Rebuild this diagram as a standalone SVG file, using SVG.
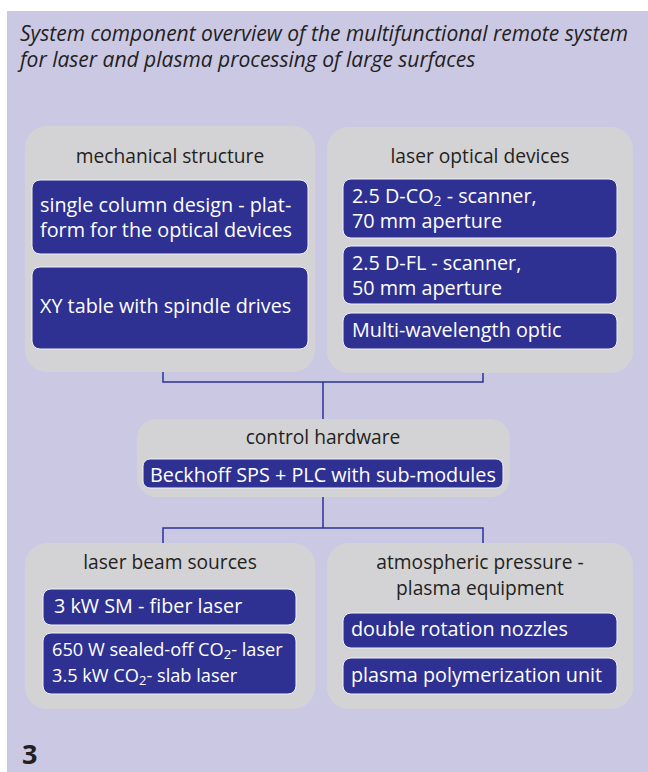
<svg xmlns="http://www.w3.org/2000/svg" width="648" height="772" viewBox="0 0 648 772">
<style>
.bg{fill:#CBC8E4}
.grp{fill:#D3D3D5}
.item{fill:#2E3192;stroke:#F2F2F8;stroke-width:1}
.hd{font-family:"Open Sans","Noto Sans",sans-serif;font-size:19.2px;fill:#231F20;text-anchor:middle}
.tx{font-family:"Open Sans","Noto Sans",sans-serif;font-size:19.8px;fill:#FFFFFF}
.sm{font-size:18.2px}
.ttl{font-family:"Open Sans","Noto Sans",sans-serif;font-style:italic;font-size:21px;fill:#231F20}
.conn{fill:none;stroke:#2E3192;stroke-width:1.5}
.num{font-family:"Open Sans","Noto Sans",sans-serif;font-weight:bold;font-size:27px;fill:#231F20}
</style>
<rect x="0" y="0" width="648" height="772" fill="#FFFFFF"/>
<rect class="bg" x="7" y="11" width="641" height="761"/>
<text class="ttl" x="20" y="41">System component overview of the multifunctional remote system</text>
<text class="ttl" x="20" y="67">for laser and plasma processing of large surfaces</text>

<g id="connectors">
<path class="conn" d="M163 372 V382 H483 V373 M323 382 V419"/>
<path class="conn" d="M323 497 V528 M163 543 V528 H483 V543"/>
</g>

<g id="mechanical-structure">
<rect class="grp" x="25" y="126" width="290" height="246" rx="22"/>
<text class="hd" x="170" y="163">mechanical structure</text>
<rect class="item" x="32" y="180" width="276" height="74" rx="8"/>
<text class="tx" x="40" y="212">single column design - plat-</text>
<text class="tx" x="40" y="237">form for the optical devices</text>
<rect class="item" x="32" y="267" width="276" height="82" rx="8"/>
<text class="tx" x="40" y="313">XY table with spindle drives</text>
</g>

<g id="laser-optical-devices">
<rect class="grp" x="327" y="127" width="306" height="246" rx="22"/>
<text class="hd" x="480" y="163">laser optical devices</text>
<rect class="item" x="343" y="179" width="274" height="59" rx="8"/>
<text class="tx" x="352" y="203">2.5 D-CO<tspan font-size="14" baseline-shift="-3">2</tspan> - scanner,</text>
<text class="tx" x="352" y="228">70 mm aperture</text>
<rect class="item" x="343" y="246" width="274" height="58" rx="8"/>
<text class="tx" x="352" y="270">2.5 D-FL - scanner,</text>
<text class="tx" x="352" y="295">50 mm aperture</text>
<rect class="item" x="343" y="313" width="274" height="36" rx="8"/>
<text class="tx" x="352" y="337">Multi-wavelength optic</text>
</g>

<g id="control-hardware">
<rect class="grp" x="137" y="419" width="373" height="78" rx="20"/>
<text class="hd" x="323" y="444">control hardware</text>
<rect class="item" x="143" y="459" width="360" height="29" rx="7"/>
<text class="tx" x="150" y="482">Beckhoff SPS + PLC with sub-modules</text>
</g>

<g id="laser-beam-sources">
<rect class="grp" x="25" y="543" width="290" height="166" rx="22"/>
<text class="hd" x="170" y="569">laser beam sources</text>
<rect class="item" x="43" y="589" width="253" height="36" rx="8"/>
<text class="tx" x="54" y="613">3 kW SM - fiber laser</text>
<rect class="item" x="43" y="633" width="253" height="61" rx="8"/>
<text class="tx sm" x="52" y="656">650 W sealed-off CO<tspan font-size="13" baseline-shift="-3">2</tspan>- laser</text>
<text class="tx sm" x="52" y="682">3.5 kW CO<tspan font-size="13" baseline-shift="-3">2</tspan>- slab laser</text>
</g>

<g id="plasma-equipment">
<rect class="grp" x="327" y="543" width="306" height="166" rx="22"/>
<text class="hd" x="480" y="569">atmospheric pressure -</text>
<text class="hd" x="480" y="595">plasma equipment</text>
<rect class="item" x="343" y="613" width="274" height="35" rx="8"/>
<text class="tx" x="351" y="636">double rotation nozzles</text>
<rect class="item" x="343" y="658" width="274" height="36" rx="8"/>
<text class="tx" x="351" y="682">plasma polymerization unit</text>
</g>

<text class="num" x="22" y="764">3</text>
</svg>
